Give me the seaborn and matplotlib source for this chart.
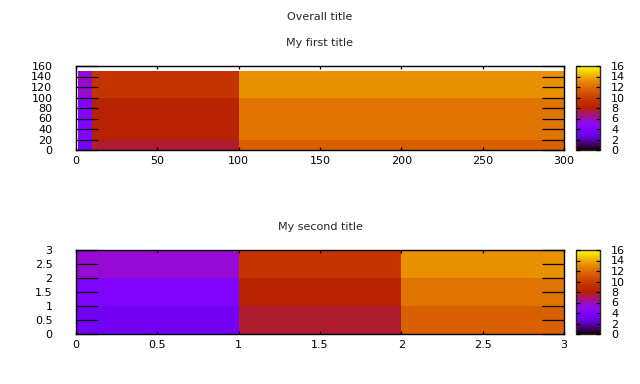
import seaborn as sns
import matplotlib.pyplot as plt
import numpy as np

# cell values (rows bottom -> top, columns left -> right)
z_values = [[3.3, 7.5, 11.5],
            [4.0, 8.3, 12.3],
            [5.5, 9.4, 13.2]]

# first panel: non uniform grid
top_x_edges = [1, 10, 100, 300]
top_y_edges = [0, 20, 100, 150]
top_xticks = [0, 50, 100, 150, 200, 250, 300]
top_yticks = [0, 20, 40, 60, 80, 100, 120, 140, 160]

# second panel: unit grid
bottom_x_edges = [0, 1, 2, 3]
bottom_y_edges = [0, 1, 2, 3]
bottom_ticks = [0, 0.5, 1, 1.5, 2, 2.5, 3]
bottom_ticklabels = ['0', '0.5', '1', '1.5', '2', '2.5', '3']

cbar_ticks = [0, 2, 4, 6, 8, 10, 12, 14, 16]

sns.set_style('ticks')
plt.rcParams['font.family'] = ['DejaVu Sans']
plt.rcParams['font.size'] = 8
plt.rcParams['axes.axisbelow'] = False

W, H = 640, 384
fig = plt.figure(figsize=(W / 100, H / 100), dpi=100)

def box(l, t, r, b):
    return [l / W, 1 - b / H, (r - l) / W, (b - t) / H]

def style(ax):
    ax.set_axisbelow(False)
    for s in ax.spines.values():
        s.set_linewidth(1.0)
        s.set_color('black')
    ax.tick_params(axis='y', direction='in', length=15.8, width=0.9,
                   left=True, right=True, pad=17, colors='black')
    ax.tick_params(axis='x', direction='in', length=2.3, width=0.9,
                   top=True, bottom=True, pad=4, colors='black')

def colorbar(mesh, rect):
    cax = fig.add_axes(rect)
    cb = fig.colorbar(mesh, cax=cax, ticks=cbar_ticks)
    cb.outline.set_linewidth(1.0)
    cax.set_axisbelow(False)
    cax.tick_params(direction='in', length=3, width=0.9, left=True, right=True,
                    pad=8, colors='black')
    return cb

z = np.array(z_values)

ax1 = fig.add_axes(box(76, 66, 564, 150))
m1 = ax1.pcolormesh(top_x_edges, top_y_edges, z, cmap='gnuplot', vmin=0, vmax=16)
ax1.set_xlim(0, 300)
ax1.set_ylim(0, 160)
ax1.set_xticks(top_xticks)
ax1.set_yticks(top_yticks)
style(ax1)
colorbar(m1, box(576, 66, 600, 150))

ax2 = fig.add_axes(box(76, 250, 564, 334))
m2 = ax2.pcolormesh(bottom_x_edges, bottom_y_edges, z, cmap='gnuplot', vmin=0, vmax=16)
ax2.set_xlim(0, 3)
ax2.set_ylim(0, 3)
ax2.set_xticks(bottom_ticks, bottom_ticklabels)
ax2.set_yticks(bottom_ticks, bottom_ticklabels)
style(ax2)
colorbar(m2, box(576, 250, 600, 334))

fig.text(320 / W, 1 - 16.5 / H, 'Overall title', ha='center', va='center', fontsize=8)
fig.text(320 / W, 1 - 42.5 / H, 'My first title', ha='center', va='center', fontsize=8)
fig.text(320 / W, 1 - 226.5 / H, 'My second title', ha='center', va='center', fontsize=8)

fig.savefig('out.png', dpi=100)
